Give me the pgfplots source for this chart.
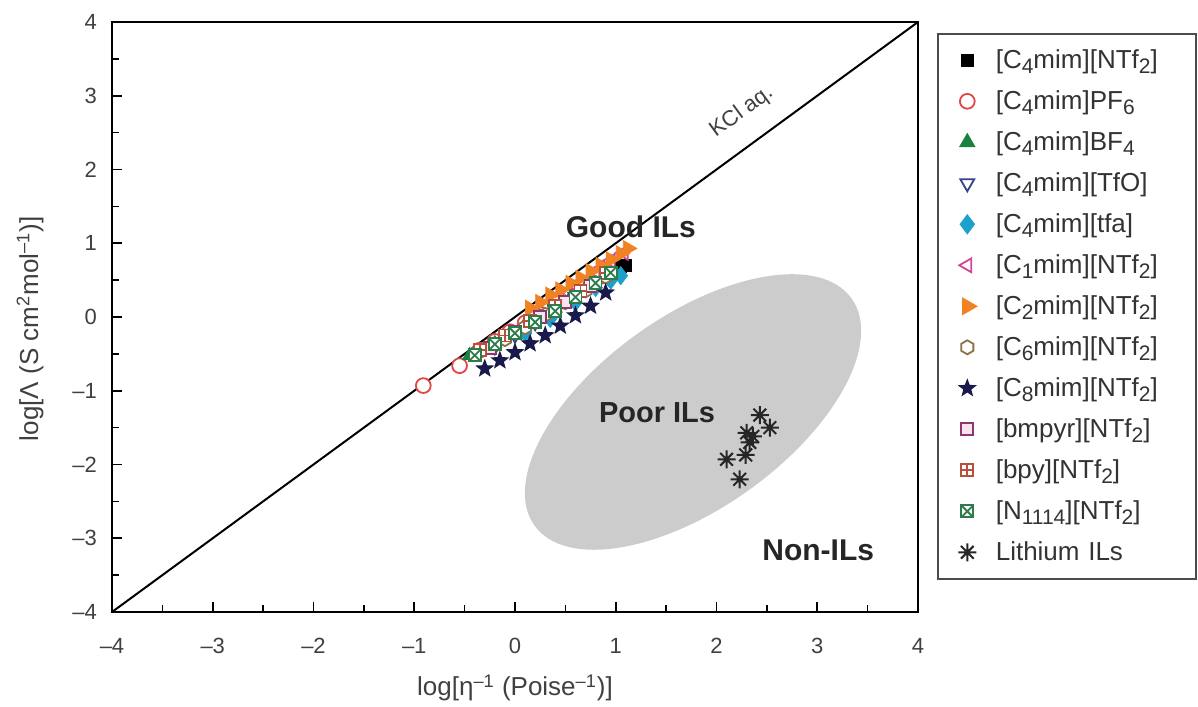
\documentclass[border=0pt]{standalone}
\usepackage{fontspec}
\setmainfont{Liberation Sans}
\usepackage{pgfplots}
\pgfplotsset{compat=1.18}
\usetikzlibrary{plotmarks}

\definecolor{cRed}{RGB}{225,70,70}
\definecolor{cGreen}{RGB}{25,130,65}
\definecolor{cNavy}{RGB}{55,65,140}
\definecolor{cCyan}{RGB}{30,160,205}
\definecolor{cPink}{RGB}{210,70,150}
\definecolor{cOrange}{RGB}{240,130,35}
\definecolor{cOlive}{RGB}{140,115,70}
\definecolor{cStar}{RGB}{25,25,75}
\definecolor{cPurple}{RGB}{140,55,110}
\definecolor{cPinkFill}{RGB}{250,228,240}
\definecolor{cBrown}{RGB}{185,80,60}
\definecolor{cGreenB}{RGB}{45,125,75}

\newcommand\sub[1]{\raisebox{-0.35ex}{\fontsize{10.5}{12}\selectfont #1}}

% extra marks
\pgfdeclareplotmark{hexagon}{%
  \pgfpathmoveto{\pgfqpointpolar{30}{\pgfplotmarksize}}%
  \pgfpathlineto{\pgfqpointpolar{90}{\pgfplotmarksize}}%
  \pgfpathlineto{\pgfqpointpolar{150}{\pgfplotmarksize}}%
  \pgfpathlineto{\pgfqpointpolar{210}{\pgfplotmarksize}}%
  \pgfpathlineto{\pgfqpointpolar{270}{\pgfplotmarksize}}%
  \pgfpathlineto{\pgfqpointpolar{330}{\pgfplotmarksize}}%
  \pgfpathclose\pgfusepathqfillstroke}
\pgfdeclareplotmark{fstar}{%
  \pgfpathmoveto{\pgfqpointpolar{90}{\pgfplotmarksize}}%
  \pgfpathlineto{\pgfqpointpolar{126}{0.42\pgfplotmarksize}}%
  \pgfpathlineto{\pgfqpointpolar{162}{\pgfplotmarksize}}%
  \pgfpathlineto{\pgfqpointpolar{198}{0.42\pgfplotmarksize}}%
  \pgfpathlineto{\pgfqpointpolar{234}{\pgfplotmarksize}}%
  \pgfpathlineto{\pgfqpointpolar{270}{0.42\pgfplotmarksize}}%
  \pgfpathlineto{\pgfqpointpolar{306}{\pgfplotmarksize}}%
  \pgfpathlineto{\pgfqpointpolar{342}{0.42\pgfplotmarksize}}%
  \pgfpathlineto{\pgfqpointpolar{18}{\pgfplotmarksize}}%
  \pgfpathlineto{\pgfqpointpolar{54}{0.42\pgfplotmarksize}}%
  \pgfpathclose\pgfusepathqfill}
\pgfdeclareplotmark{boxplus}{%
  \pgfpathrectangle{\pgfqpoint{-\pgfplotmarksize}{-\pgfplotmarksize}}{\pgfqpoint{2\pgfplotmarksize}{2\pgfplotmarksize}}%
  \pgfusepathqfillstroke
  \pgfpathmoveto{\pgfqpoint{-\pgfplotmarksize}{0pt}}\pgfpathlineto{\pgfqpoint{\pgfplotmarksize}{0pt}}%
  \pgfpathmoveto{\pgfqpoint{0pt}{-\pgfplotmarksize}}\pgfpathlineto{\pgfqpoint{0pt}{\pgfplotmarksize}}%
  \pgfusepathqstroke}
\pgfdeclareplotmark{boxtimes}{%
  \pgfpathrectangle{\pgfqpoint{-\pgfplotmarksize}{-\pgfplotmarksize}}{\pgfqpoint{2\pgfplotmarksize}{2\pgfplotmarksize}}%
  \pgfusepathqfillstroke
  \pgfpathmoveto{\pgfqpoint{-\pgfplotmarksize}{-\pgfplotmarksize}}\pgfpathlineto{\pgfqpoint{\pgfplotmarksize}{\pgfplotmarksize}}%
  \pgfpathmoveto{\pgfqpoint{-\pgfplotmarksize}{\pgfplotmarksize}}\pgfpathlineto{\pgfqpoint{\pgfplotmarksize}{-\pgfplotmarksize}}%
  \pgfusepathqstroke}
\pgfdeclareplotmark{ast8}{%
  \pgfpathmoveto{\pgfqpoint{-\pgfplotmarksize}{0pt}}\pgfpathlineto{\pgfqpoint{\pgfplotmarksize}{0pt}}%
  \pgfpathmoveto{\pgfqpoint{0pt}{-\pgfplotmarksize}}\pgfpathlineto{\pgfqpoint{0pt}{\pgfplotmarksize}}%
  \pgfpathmoveto{\pgfqpoint{-0.707\pgfplotmarksize}{-0.707\pgfplotmarksize}}\pgfpathlineto{\pgfqpoint{0.707\pgfplotmarksize}{0.707\pgfplotmarksize}}%
  \pgfpathmoveto{\pgfqpoint{-0.707\pgfplotmarksize}{0.707\pgfplotmarksize}}\pgfpathlineto{\pgfqpoint{0.707\pgfplotmarksize}{-0.707\pgfplotmarksize}}%
  \pgfusepathqstroke}

\begin{document}
\begin{tikzpicture}
\path[use as bounding box] (-56pt,-47pt) rectangle (543pt,306pt);
\begin{axis}[
    scale only axis,
    width=403pt, height=295pt,
    xmin=-4, xmax=4, ymin=-4, ymax=4,
    xtick={-4,...,4}, ytick={-4,...,4},
    xticklabels={–4,–3,–2,–1,0,1,2,3,4},
    yticklabels={–4,–3,–2,–1,0,1,2,3,4},
    minor tick num=1,
    tick pos=left, tick align=inside,
    major tick length=5pt, minor tick length=3.5pt,
    axis line style={line width=1pt},
    every tick/.style={black, line width=0.8pt},
    tick label style={font=\fontsize{11}{13}\selectfont, text=black!75},
    xticklabel style={yshift=-9.5pt},
    yticklabel style={xshift=-4pt},
    xlabel={log[η\textsuperscript{–1} (Poise\textsuperscript{–1})]},
    ylabel={log[Λ (S cm\textsuperscript{2}mol\textsuperscript{–1})]},
    label style={font=\fontsize{13}{15}\selectfont, text=black!75},
    xlabel style={at={(axis description cs:0.5,0)}, anchor=center, yshift=-38pt},
    ylabel style={at={(axis description cs:0,0.48)}, anchor=center, yshift=41pt},
    legend style={at={(axis description cs:1,1)}, anchor=north west,
        xshift=9.5pt, yshift=-5.5pt, draw=black!70, line width=0.8pt,
        inner xsep=10pt, inner ysep=3pt, row sep=0pt, column sep=5.5pt,
        font=\fontsize{13}{15}\selectfont, text=black!80,
        nodes={inner xsep=4pt, inner ysep=0pt, text height=14.5pt, text depth=6pt, text width=86pt, align=left}},
    legend cell align=left,
]
% regions
\fill[gray!40, rotate around={35.6:(axis cs:1.767,-1.288)}] (axis cs:1.767,-1.288) ellipse [x radius=97.5pt, y radius=48pt];
\addplot[black, line width=1pt, forget plot] coordinates {(-4,-4) (4,4)};

\addplot[only marks, mark=square*, mark size=3pt, black] coordinates {
(0.85,0.55) (0.95,0.6) (1.0,0.64) (1.05,0.68) (1.1,0.70)};
\addlegendentry{[C\sub{4}mim][NTf\sub{2}]}
\addplot[only marks, mark=*, mark size=3.7pt, cRed, line width=0.9pt, mark options={fill=white}] coordinates {
(-0.91,-0.93) (-0.55,-0.66) (-0.35,-0.45) (-0.2,-0.33) (-0.05,-0.2) (0.1,-0.08) (0.25,0.04) (0.4,0.16) (0.55,0.28) (0.7,0.42) (0.85,0.55)};
\addlegendentry{[C\sub{4}mim]PF\sub{6}}
\addplot[only marks, mark=triangle*, mark size=4pt, cGreen] coordinates {
(-0.45,-0.52) (-0.35,-0.46) (-0.2,-0.36) (-0.05,-0.22) (0.1,-0.1) (0.25,0.0) (0.4,0.12) (0.55,0.26) (0.7,0.4) (0.85,0.52)};
\addlegendentry{[C\sub{4}mim]BF\sub{4}}
\addplot[only marks, mark=triangle*, mark size=4pt, cNavy, line width=0.9pt, mark options={rotate=180, fill=white}] coordinates {
(-0.2,-0.4) (0.0,-0.24) (0.2,-0.07) (0.4,0.1) (0.6,0.27) (0.8,0.45)};
\addlegendentry{[C\sub{4}mim][TfO]}
\addplot[only marks, mark=diamond*, mark size=4.5pt, cCyan] coordinates {
(0.1,-0.22) (0.35,-0.02) (0.6,0.2) (0.8,0.4) (0.95,0.5) (1.05,0.56)};
\addlegendentry{[C\sub{4}mim][tfa]}
\addplot[only marks, mark=triangle*, mark size=4pt, cPink, line width=0.9pt, mark options={rotate=90, fill=white}] coordinates {
(0.2,0.05) (0.4,0.25) (0.6,0.43) (0.8,0.62) (0.95,0.76) (1.08,0.87)};
\addlegendentry{[C\sub{1}mim][NTf\sub{2}]}
\addplot[only marks, mark=triangle*, mark size=4.5pt, cOrange, mark options={rotate=-90}] coordinates {
(0.15,0.12) (0.25,0.2) (0.35,0.3) (0.45,0.37) (0.55,0.46) (0.65,0.53) (0.75,0.62) (0.85,0.7) (0.95,0.78) (1.05,0.86) (1.12,0.93)};
\addlegendentry{[C\sub{2}mim][NTf\sub{2}]}
\addplot[only marks, mark=hexagon, mark size=3.5pt, cOlive, line width=0.9pt, mark options={fill=white}] coordinates {
(-0.1,-0.3) (0.1,-0.14) (0.3,0.03) (0.5,0.2) (0.7,0.36) (0.9,0.55)};
\addlegendentry{[C\sub{6}mim][NTf\sub{2}]}
\addplot[only marks, mark=fstar, mark size=5pt, cStar] coordinates {
(-0.3,-0.7) (-0.15,-0.59) (0.0,-0.48) (0.15,-0.36) (0.3,-0.25) (0.45,-0.12) (0.6,0.02) (0.75,0.15) (0.9,0.33)};
\addlegendentry{[C\sub{8}mim][NTf\sub{2}]}
\addplot[only marks, mark=square*, mark size=3pt, line width=0.9pt, mark options={draw=cPurple, fill=cPinkFill}] coordinates {
(-0.25,-0.42) (0.0,-0.2) (0.25,0.0) (0.5,0.2) (0.75,0.42) (0.95,0.6)};
\addlegendentry{[bmpyr][NTf\sub{2}]}
\addplot[only marks, mark=boxplus, mark size=3pt, line width=0.9pt, cBrown, mark options={fill=white}] coordinates {
(-0.35,-0.45) (-0.1,-0.25) (0.15,-0.05) (0.4,0.15) (0.65,0.35) (0.9,0.6)};
\addlegendentry{[bpy][NTf\sub{2}]}
\addplot[only marks, mark=boxtimes, mark size=3pt, line width=0.9pt, cGreenB, mark options={fill=white}] coordinates {
(-0.4,-0.52) (-0.2,-0.37) (0.0,-0.22) (0.2,-0.07) (0.4,0.08) (0.6,0.27) (0.8,0.46) (0.95,0.6)};
\addlegendentry{[N\sub{1114}][NTf\sub{2}]}
\addplot[only marks, mark=ast8, mark size=4.5pt, line width=1pt, black!85] coordinates {
(2.43,-1.33) (2.53,-1.50) (2.30,-1.57) (2.36,-1.62) (2.33,-1.70) (2.29,-1.87) (2.10,-1.93) (2.23,-2.20)};
\addlegendentry{Lithium ILs}

\node[font=\bfseries\fontsize{15}{18}\selectfont, text=black!85] at (axis cs:1.15,1.22) {Good ILs};
\node[font=\bfseries\fontsize{14.5}{17}\selectfont, text=black!85] at (axis cs:1.41,-1.30) {Poor ILs};
\node[font=\bfseries\fontsize{15}{18}\selectfont, text=black!85] at (axis cs:3.01,-3.17) {Non-ILs};
\node[rotate=36.2, font=\fontsize{11}{13}\selectfont, text=black!75] at (axis cs:2.25,2.78) {KCl aq.};
\end{axis}
\end{tikzpicture}
\end{document}
